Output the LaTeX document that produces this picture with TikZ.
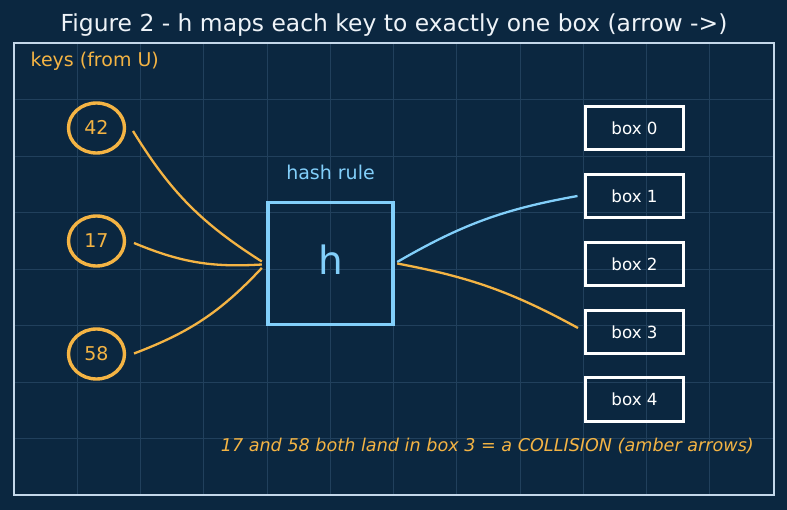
\documentclass[tikz,border=0pt]{standalone}
\usepackage{fontspec}
\setmainfont{DejaVu Sans}
\usetikzlibrary{shapes.geometric}
\definecolor{bg}{HTML}{0B2740}
\definecolor{gridc}{HTML}{21405C}
\definecolor{framec}{HTML}{C4D8EA}
\definecolor{amber}{HTML}{F4B444}
\definecolor{lblue}{HTML}{82CFFA}
\definecolor{titlec}{HTML}{EEF3F8}
\tikzset{
  keynode/.style={ellipse, draw=amber, line width=3.4pt, minimum width=56pt, minimum height=50pt,
    inner sep=0pt, text=amber, font=\fontsize{19}{19}\selectfont, text height=13.8pt, text depth=0pt},
  boxnode/.style={rectangle, draw=white, line width=3pt, minimum width=98pt, minimum height=43pt,
    inner sep=0pt, text=white, font=\fontsize{16.7}{16.7}\selectfont, text height=12.2pt, text depth=0pt},
  hashnode/.style={rectangle, draw=lblue, line width=3.4pt, minimum width=125pt, minimum height=122pt,
    inner sep=0pt, text=lblue, font=\fontsize{39}{39}\selectfont, text height=29.6pt, text depth=6.6pt},
  amberline/.style={draw=amber, line width=2.3pt},
  blueline/.style={draw=lblue, line width=2.3pt},
}
\begin{document}
\begin{tikzpicture}[x=1pt,y=-1pt]
\fill[bg] (0,0) rectangle (787,510);
\useasboundingbox (0,0) rectangle (787,510);
% grid
\foreach \i in {1,...,11} \draw[gridc, line width=0.8pt] (14+\i*63.25,43) -- (14+\i*63.25,495);
\foreach \j in {1,...,7} \draw[gridc, line width=0.8pt] (14,43+\j*56.5) -- (773,43+\j*56.5);
\draw[framec, line width=2pt] (13.5,43) rectangle (773.5,495);
% texts
\node[anchor=base, text=titlec, font=\fontsize{23.4}{23.4}\selectfont, inner sep=0pt] (title) at (394,32) {Figure 2 - h maps each key to exactly one box (arrow ->)};
\node[anchor=base west, text=amber, font=\fontsize{19}{19}\selectfont, inner sep=0pt] (keys) at (30.5,66.5) {keys (from U)};
\node[anchor=base, text=lblue, font=\fontsize{19}{19}\selectfont, inner sep=0pt] (hashlbl) at (330.5,179.5) {hash rule};
\node[anchor=base east, text=amber, font=\fontsize{17.6}{17.6}\selectfont\itshape, inner sep=0pt] (note) at (754,451) {17 and 58 both land in box 3 = a COLLISION (amber arrows)};
% key nodes
\node[keynode] (k42) at (96.5,128) {42};
\node[keynode] (k17) at (96.5,241) {17};
\node[keynode] (k58) at (96.5,354) {58};
% hash
\node[hashnode] (h) at (330.5,263.5) {h};
% boxes
\node[boxnode] (b0) at (634.5,128) {box 0};
\node[boxnode] (b1) at (634.5,196) {box 1};
\node[boxnode] (b2) at (634.5,264) {box 2};
\node[boxnode] (b3) at (634.5,332) {box 3};
\node[boxnode] (b4) at (634.5,399.5) {box 4};
% connectors
\draw[amberline] ([shift={(36.5,3)}]k42.center) to[bend right=13] ([shift={(-4.5,-2)}]h.west);
\draw[amberline] ([shift={(37.5,2)}]k17.center) to[bend right=13] ([shift={(-4.5,1)}]h.west);
\draw[amberline] ([shift={(37.5,-0.5)}]k58.center) to[bend right=13] ([shift={(-4.5,4.5)}]h.west);
\draw[blueline] ([shift={(2.5,-1.5)}]h.east) to[bend left=10] ([shift={(-6.5,0)}]b1.west);
\draw[amberline] ([shift={(2.5,0)}]h.east) to[bend left=9] ([shift={(-6,-4)}]b3.west);
\end{tikzpicture}
\end{document}
